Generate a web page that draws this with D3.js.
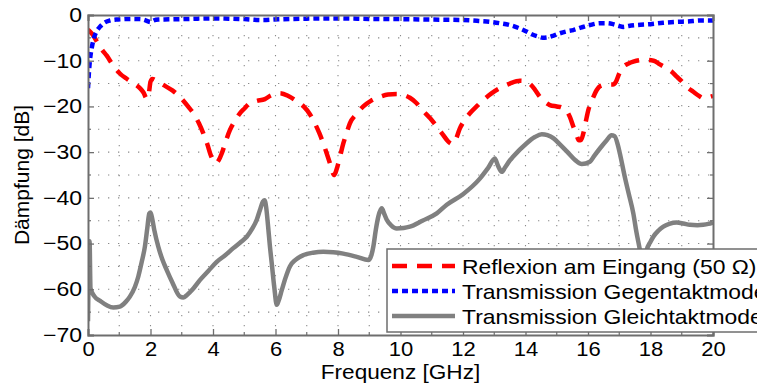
<!DOCTYPE html>
<html>
<head>
<meta charset="utf-8">
<script src="https://cdn.jsdelivr.net/npm/d3@7/dist/d3.min.js"></script>
<style>
  html, body { margin: 0; padding: 0; background: #fff; overflow: hidden; }
  svg { display: block; font-family: "Liberation Sans", Arial, Helvetica, sans-serif; }
</style>
</head>
<body>
<svg id="chart" width="757" height="383"></svg>
<script>
// Reflexion am Eingang (50 Ω): frequency [GHz] and attenuation [dB]
const reflFreq = [0,0.15,0.3,0.45,0.6,0.8,1.02,1.25,1.45,1.66,1.78,1.88,1.95,2.0,2.06,2.2,2.41,2.7,2.94,3.2,3.37,3.55,3.69,3.82,3.92,4.02,4.1,4.18,4.28,4.4,4.54,4.7,4.86,5.0,5.18,5.4,5.66,5.85,6.14,6.41,6.65,6.9,7.1,7.26,7.4,7.53,7.64,7.74,7.82,7.87,7.92,7.98,8.07,8.17,8.28,8.38,8.6,8.81,9.05,9.34,9.6,9.88,10.1,10.3,10.5,10.7,10.95,11.16,11.35,11.53,11.65,11.75,11.9,12.05,12.22,12.45,12.65,12.9,13.18,13.5,13.82,14.0,14.15,14.3,14.46,14.62,14.78,15.0,15.15,15.3,15.42,15.53,15.63,15.71,15.78,15.85,15.93,16.01,16.15,16.28,16.4,16.6,16.8,16.9,17.0,17.13,17.3,17.45,17.77,18.1,18.3,18.5,18.68,18.84,19.0,19.16,19.37,19.55,19.69,19.85,20];
const reflDb = [-3.2,-4.3,-6,-7.6,-8.9,-11,-12.8,-14,-14.9,-16,-17,-18.3,-17,-14.6,-14,-14.4,-15.3,-16.5,-17.9,-20,-21.5,-23.7,-25.9,-28.3,-30.5,-32,-32.4,-31.8,-30.3,-27.8,-25.2,-23.2,-21.5,-20.5,-19.3,-18.8,-18.4,-17.6,-17.1,-17.7,-18.7,-20,-21.7,-23.7,-25.8,-28.1,-30.3,-32.4,-34.3,-35,-34.5,-33.2,-30.8,-28.1,-25.7,-23.7,-21.6,-20,-18.8,-17.9,-17.4,-17.3,-17.5,-18.1,-19.2,-20.8,-22.6,-24.4,-26.1,-27.7,-28.2,-27.5,-24.8,-23,-21.5,-19.9,-18.6,-17.2,-16,-15,-14.4,-14.5,-15.1,-16.3,-17.9,-19,-19.7,-20,-20.2,-20.8,-22.3,-24.4,-26.2,-27.4,-27.3,-25.9,-23.3,-20.8,-18.3,-16.4,-15.5,-15.2,-15.2,-14.5,-12.8,-11.3,-10.6,-10.2,-9.8,-10,-10.8,-11.6,-12.4,-13.5,-14.5,-15.7,-16.8,-17.7,-18.2,-18,-17.7];

// Transmission Gegentaktmode
const diffFreq = [0,0.03,0.064,0.12,0.17,0.26,0.38,0.5,0.7,0.9,1.13,1.4,1.66,1.8,1.9,2.0,2.1,2.25,2.6,3,3.5,4,4.5,5,5.6,6.1,7,8.06,9,10,11,12,12.5,12.86,13.18,13.5,13.8,14.03,14.2,14.4,14.55,14.68,14.9,15.1,15.3,15.53,15.8,16.06,16.38,16.6,16.8,17.0,17.13,17.3,17.55,18,18.4,18.84,19.2,19.6,20];
const diffDb = [-16,-12.5,-9.8,-7.2,-5.5,-3.8,-2.6,-1.8,-1.2,-1.0,-0.9,-0.85,-0.9,-1.05,-1.35,-1.55,-1.2,-1.0,-0.95,-0.9,-0.8,-0.75,-0.8,-0.9,-1.1,-0.95,-0.8,-0.75,-0.85,-0.9,-1.0,-1.1,-1.3,-1.5,-1.8,-2.2,-2.9,-3.6,-4.2,-4.7,-4.95,-4.9,-4.5,-4.0,-3.6,-3.3,-2.7,-2.2,-1.8,-1.8,-2.0,-2.4,-2.6,-2.4,-2.2,-2.0,-1.7,-1.5,-1.4,-1.2,-1.2];

// Transmission Gleichtaktmode
const commFreq = [0,0.05,0.08,0.2,0.4,0.6,0.81,1.02,1.2,1.34,1.5,1.61,1.72,1.82,1.9,1.96,2.0,2.04,2.12,2.25,2.38,2.52,2.7,2.94,3.05,3.16,3.35,3.58,3.85,4.12,4.4,4.65,4.9,5.08,5.25,5.4,5.5,5.6,5.65,5.7,5.76,5.82,5.88,5.96,6.04,6.1,6.2,6.32,6.46,6.65,6.9,7.2,7.53,7.85,8.17,8.6,8.97,9.07,9.13,9.21,9.29,9.4,9.48,9.56,9.7,9.88,10.1,10.3,10.7,11.16,11.48,12.0,12.54,12.8,13.02,13.12,13.24,13.35,13.5,13.6,14.03,14.3,14.52,14.7,14.9,15.1,15.33,15.6,15.8,16.06,16.2,16.38,16.6,16.75,16.85,16.95,17.02,17.18,17.3,17.45,17.55,17.66,17.77,17.88,18.0,18.09,18.25,18.41,18.6,18.84,19.05,19.26,19.5,19.69,19.85,20];
const commDb = [-67,-49.5,-59.8,-61.5,-62.6,-63.5,-64,-63.8,-62.8,-61.6,-59.5,-57.2,-54,-50.7,-46.5,-43.4,-43.2,-44.1,-47,-50.7,-53.5,-55.8,-58.5,-61.6,-61.8,-61.3,-60,-58,-56,-54,-52.5,-51,-49.6,-48.5,-46.8,-44.8,-42.7,-40.8,-40.5,-42,-46,-50.5,-54.3,-59.5,-63.4,-62.5,-60.2,-57.5,-55,-53.5,-52.5,-52,-51.8,-51.9,-52.2,-52.9,-53.6,-52.5,-50.7,-47,-44.1,-42.3,-43.5,-44.8,-46,-46.7,-46.6,-46.3,-45,-43.4,-41.5,-39.2,-35.8,-33.5,-31.4,-33,-34.3,-33.3,-31.8,-31,-28.1,-26.7,-26.1,-26.3,-27,-28.3,-29.9,-31.8,-32.6,-32.1,-30.8,-29.2,-27.4,-26.3,-26.5,-28.3,-30.3,-35.5,-39,-43.4,-47.5,-51.4,-56,-51.4,-49.6,-48.5,-47.2,-46.3,-45.7,-45.4,-45.6,-45.9,-46,-45.9,-45.7,-45.4];

const xTicks = [0, 2, 4, 6, 8, 10, 12, 14, 16, 18, 20];
const yTicks = [0, -10, -20, -30, -40, -50, -60, -70];
const seriesNames = ["Reflexion am Eingang (50 Ω)", "Transmission Gegentaktmode", "Transmission Gleichtaktmode"];

const svg = d3.select("#chart");
const m = { left: 88, top: 15, right: 44, bottom: 48 };
const W = 757 - m.left - m.right;
const H = 383 - m.top - m.bottom;

const x = d3.scaleLinear().domain([0, 20]).range([0, W]);
const y = d3.scaleLinear().domain([-70, 0]).range([H, 0]);

const g = svg.append("g").attr("transform", `translate(${m.left},${m.top})`);

const axisColor = "#6e6e6e";

// the figure's lettering is set slightly wider than Liberation Sans
function widen(sel, factor) {
  sel.each(function () {
    const w = this.getComputedTextLength();
    d3.select(this).attr("textLength", w * factor).attr("lengthAdjust", "spacingAndGlyphs");
  });
}

// dotted grid: every 1 GHz and every 5 dB
const gridX = d3.range(1, 20, 1);
const gridY = d3.range(-65, 0, 5);
g.append("g").selectAll("line").data(gridX).join("line")
  .attr("x1", d => x(d)).attr("x2", d => x(d)).attr("y1", 0).attr("y2", H)
  .attr("stroke", "#8a8a8a").attr("stroke-width", 1.1).attr("stroke-dasharray", "1.3,8.7");
g.append("g").selectAll("line").data(gridY).join("line")
  .attr("x1", 0).attr("x2", W).attr("y1", d => y(d)).attr("y2", d => y(d))
  .attr("stroke", "#8a8a8a").attr("stroke-width", 1.1).attr("stroke-dasharray", "1.3,8.7");

// curves
g.append("clipPath").attr("id", "plotclip")
  .append("rect").attr("x", 0).attr("y", 0).attr("width", W).attr("height", H);

const lineGen = d3.line().x(d => x(d[0])).y(d => y(d[1])).curve(d3.curveMonotoneX);
const zip = (a, b) => a.map((v, i) => [v, b[i]]);

const series = [
  { pts: zip(commFreq, commDb), color: "#808080", width: 4.5, dash: null },
  { pts: zip(reflFreq, reflDb), color: "#ff0000", width: 4.5, dash: "15,10" },
  { pts: zip(diffFreq, diffDb), color: "#0000ff", width: 4.5, dash: "6,4" }
];
const plot = g.append("g").attr("clip-path", "url(#plotclip)");
series.forEach(s => {
  plot.append("path").datum(s.pts)
    .attr("d", lineGen)
    .attr("fill", "none")
    .attr("stroke", s.color)
    .attr("stroke-width", s.width)
    .attr("stroke-linejoin", "round")
    .attr("stroke-dasharray", s.dash);
});

// axes frame with inward ticks
const fmt = d => d3.format("d")(d).replace("-", "\u2212");
const axisB = d3.axisBottom(x).tickValues(xTicks).tickSize(-6).tickPadding(12).tickFormat(fmt);
const axisT = d3.axisTop(x).tickValues(xTicks).tickSize(-6).tickFormat("");
const axisL = d3.axisLeft(y).tickValues(yTicks).tickSize(-6).tickPadding(12).tickFormat(fmt);
const axisR = d3.axisRight(y).tickValues(yTicks).tickSize(-6).tickFormat("");
const minorX = d3.range(1, 20, 2);
const minorY = d3.range(-65, 0, 10);

function styleAxis(sel) {
  sel.select(".domain").attr("stroke", axisColor).attr("stroke-width", 2);
  sel.selectAll(".tick line").attr("stroke", axisColor).attr("stroke-width", 1.3);
  sel.selectAll(".tick text").attr("fill", "#000").attr("font-size", 20)
    .attr("font-family", "'Liberation Sans', Arial, sans-serif");
}

const gb = g.append("g").attr("transform", `translate(0,${H})`).call(axisB).call(styleAxis);
gb.selectAll(".tick text").attr("y", 6.8).attr("dy", "0.71em").call(widen, 1.1);
g.append("g").call(axisT).call(styleAxis);
const gl = g.append("g").call(axisL).call(styleAxis);
gl.selectAll(".tick text").attr("x", -6).call(widen, 1.15);
g.append("g").attr("transform", `translate(${W},0)`).call(axisR).call(styleAxis);

// minor ticks
const mt = g.append("g").attr("stroke", axisColor).attr("stroke-width", 1.2);
minorX.forEach(v => {
  mt.append("line").attr("x1", x(v)).attr("x2", x(v)).attr("y1", H).attr("y2", H - 3);
  mt.append("line").attr("x1", x(v)).attr("x2", x(v)).attr("y1", 0).attr("y2", 3);
});
minorY.forEach(v => {
  mt.append("line").attr("x1", 0).attr("x2", 3).attr("y1", y(v)).attr("y2", y(v));
  mt.append("line").attr("x1", W).attr("x2", W - 3).attr("y1", y(v)).attr("y2", y(v));
});

// axis titles
svg.append("text")
  .attr("x", m.left + W / 2).attr("y", 378.7)
  .attr("text-anchor", "middle").attr("font-size", 20).attr("fill", "#000")
  .text("Frequenz [GHz]").call(widen, 1.13);
svg.append("text")
  .attr("transform", `translate(29,${m.top + H / 2}) rotate(-90)`)
  .attr("text-anchor", "middle").attr("font-size", 21).attr("fill", "#000")
  .text("Dämpfung [dB]");

// legend
const lg = svg.append("g").attr("transform", "translate(387,249)");
lg.append("rect").attr("x", 0).attr("y", 0).attr("width", 400).attr("height", 83)
  .attr("fill", "#fff").attr("stroke", axisColor).attr("stroke-width", 1.5);
const legendStyles = [
  { color: "#ff0000", dash: "15,10" },
  { color: "#0000ff", dash: "6,4" },
  { color: "#808080", dash: null }
];
seriesNames.forEach((name, i) => {
  const cy = 17 + i * 25;
  lg.append("line").attr("x1", 5).attr("x2", 68).attr("y1", cy).attr("y2", cy)
    .attr("stroke", legendStyles[i].color).attr("stroke-width", 4.5)
    .attr("stroke-dasharray", legendStyles[i].dash);
  lg.append("text").attr("x", 75).attr("y", cy + 8)
    .attr("font-size", 21).attr("fill", "#000").text(name).call(widen, 1.09);
});
</script>
</body>
</html>
